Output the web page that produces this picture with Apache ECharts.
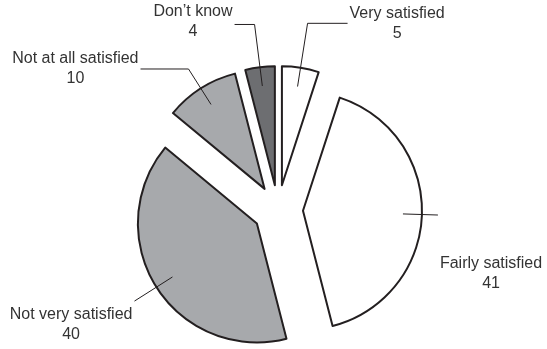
<!DOCTYPE html>
<html>
<head>
<meta charset="utf-8">
<script src="https://cdn.jsdelivr.net/npm/echarts@6/dist/echarts.min.js"></script>
<style>
html,body{margin:0;padding:0;background:#fff;}
#chart{width:547px;height:349px;}
</style>
</head>
<body>
<div id="chart"></div>
<script>
const categories = ['Very satisfied', 'Fairly satisfied', 'Not very satisfied', 'Not at all satisfied', 'Don\u2019t know'];
const values = [5, 41, 40, 10, 4];
const sliceColors = ['#ffffff', '#ffffff', '#a7a9ac', '#a7a9ac', '#6d6e71'];
// leader line shape per slice
const lineLen = [64, 35, 45, 42, 62];
const lineLen2 = [40, 0, 0, 48, 20];
const labelPad = [[0,0,0,0], [118,0,0,0], [48,0,0,0], [0,0,0,0], [0,0,6,0]];

const chart = echarts.init(document.getElementById('chart'), null, {renderer: 'canvas'});
const ink = '#231f20';
const textInk = '#333333';
const center = [278, 210];

const sliceData = categories.map((n, i) => ({
  name: n, value: values[i], selected: true,
  itemStyle: {color: sliceColors[i], borderColor: ink, borderWidth: 2},
  select: {itemStyle: {color: sliceColors[i], borderColor: ink, borderWidth: 2}}
}));
const labelData = categories.map((n, i) => ({
  name: n, value: values[i], selected: true,
  labelLine: {length: lineLen[i], length2: lineLen2[i]},
  label: {padding: labelPad[i]}
}));

chart.setOption({
  animation: false,
  series: [
    {
      type: 'pie', z: 2, center: center, radius: 119, startAngle: 90, clockwise: true,
      selectedMode: 'multiple', selectedOffset: 25, silent: true,
      label: {show: false}, labelLine: {show: false},
      emphasis: {disabled: true},
      data: sliceData
    },
    {
      type: 'pie', z: 5, center: center, radius: 100, startAngle: 90, clockwise: true,
      selectedMode: 'multiple', selectedOffset: 25, silent: true,
      avoidLabelOverlap: false,
      emphasis: {disabled: true},
      itemStyle: {color: 'rgba(0,0,0,0)', borderWidth: 0},
      select: {itemStyle: {color: 'rgba(0,0,0,0)', borderWidth: 0}},
      label: {
        show: true, position: 'outside', distanceToLabelLine: 2, bleedMargin: 0,
        formatter: '{n|{b}}\n{v|{c}}',
        color: textInk, fontFamily: 'Liberation Sans', fontSize: 16,
        rich: {
          n: {align: 'center', fontSize: 16, lineHeight: 20, color: textInk, fontFamily: 'Liberation Sans'},
          v: {align: 'center', fontSize: 16, lineHeight: 20, color: textInk, fontFamily: 'Liberation Sans'}
        }
      },
      labelLine: {show: true, smooth: false, minTurnAngle: 0, lineStyle: {color: ink, width: 1}},
      data: labelData
    }
  ]
});
</script>
</body>
</html>
